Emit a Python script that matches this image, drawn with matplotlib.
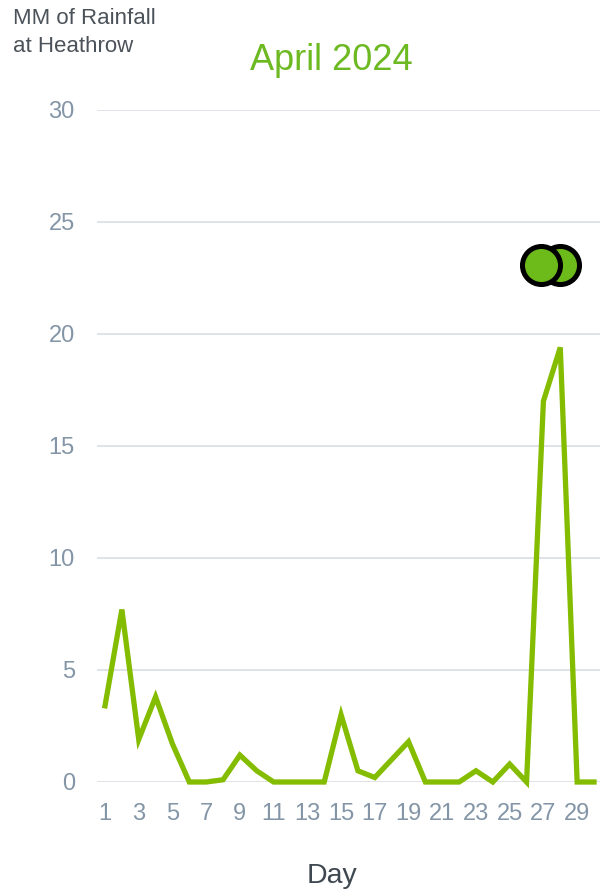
import matplotlib
matplotlib.use('Agg')
import matplotlib.pyplot as plt

plt.rcParams['font.family'] = ['Liberation Sans', 'DejaVu Sans']

# April 2024 daily rainfall at Heathrow (mm)
days = list(range(1, 31))
rain_mm = [3.4, 7.7, 1.9, 3.8, 1.7, 0.0, 0.0, 0.1, 1.2, 0.5,
           0.0, 0.0, 0.0, 0.0, 3.0, 0.5, 0.2, 1.0, 1.8, 0.0,
           0.0, 0.0, 0.5, 0.0, 0.8, 0.0, 17.0, 19.4, 0.0, 0.0]

# highlighted days (drawn back to front)
marker_days = [28, 26.85]
marker_vals = [23.1, 23.1]

y_ticks = [0, 5, 10, 15, 20, 25, 30]
x_ticks = list(range(1, 30, 2))

LINE = '#84bc00'
DOT = '#6cbb1a'
TICK = '#8395a6'
GRID = '#dfe3e8'

fig = plt.figure(figsize=(6, 8.92), dpi=100)
ax = fig.add_axes([97 / 600, 110 / 892, 503 / 600, 672 / 892])

ax.plot(days, rain_mm, color=LINE, lw=3.8, solid_joinstyle='miter',
        clip_on=False, zorder=3)
ax.scatter(marker_days, marker_vals, s=750, color=DOT, edgecolors='black',
           linewidths=3.6, zorder=4, clip_on=False)

ax.set_xlim(1 - 8 / 16.857, 30 + 6 / 16.857)
ax.set_ylim(0, 30)
ax.set_yticks(y_ticks)
ax.set_xticks(x_ticks)
ax.grid(axis='y', color=GRID, lw=1.4)
ax.set_axisbelow(True)
for s in ax.spines.values():
    s.set_visible(False)
ax.tick_params(axis='both', length=0, labelsize=17, labelcolor=TICK)
ax.tick_params(axis='y', pad=16)
ax.tick_params(axis='x', pad=15)

fig.text(13 / 600, 1 - 8 / 892, 'MM of Rainfall\nat Heathrow', ha='left',
         va='top', fontsize=16, color='#4b5259', linespacing=1.45)
fig.text(331 / 600, 1 - 70 / 892, 'April 2024', ha='center',
         va='baseline', fontsize=26, color='#6cb922')
fig.text(332 / 600, 1 - 883 / 892, 'Day', ha='center', va='baseline',
         fontsize=20.5, color='#3f4851')

fig.savefig('out.png', dpi=100)
